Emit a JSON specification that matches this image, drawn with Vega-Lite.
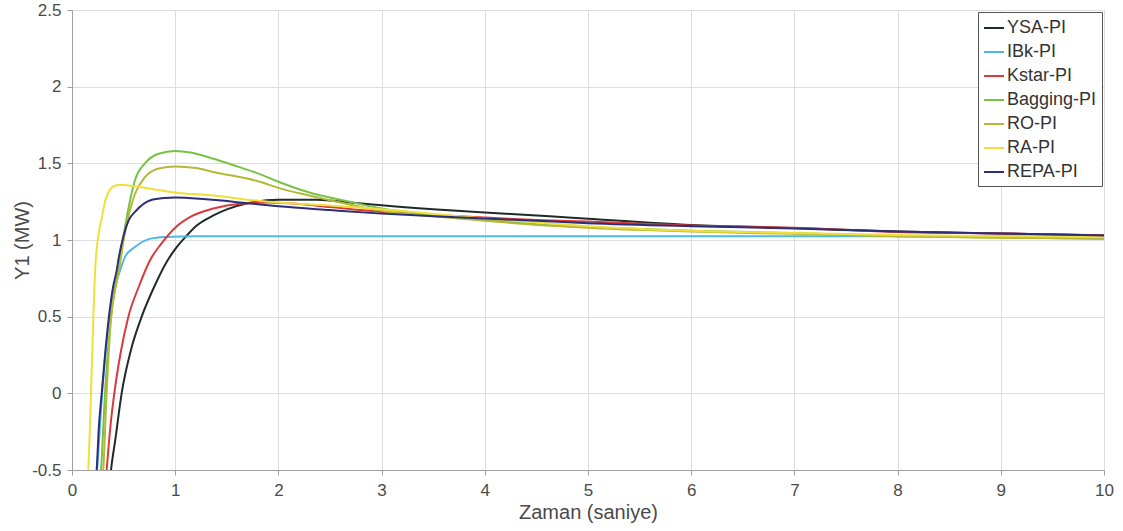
{
  "$schema": "https://vega.github.io/schema/vega-lite/v6.json",
  "width": 1032,
  "height": 460,
  "autosize": "none",
  "padding": {"left": 72, "top": 10, "right": 19, "bottom": 61},
  "background": "white",
  "config": {
    "font": "Liberation Sans",
    "view": {"stroke": "#a0a0a0", "strokeWidth": 1},
    "axis": {
      "labelFont": "Liberation Sans",
      "titleFont": "Liberation Sans",
      "labelColor": "#4a4a4a",
      "titleColor": "#4a4a4a",
      "labelFontSize": 17,
      "titleFontSize": 20,
      "titleFontWeight": "normal",
      "gridColor": "#dedede",
      "gridWidth": 1,
      "domainColor": "#a0a0a0",
      "tickColor": "#a0a0a0"
    },
    "legend": {
      "labelFont": "Liberation Sans",
      "labelFontSize": 18,
      "labelColor": "#333333"
    }
  },
  "data": {
    "values": [
      {"series": "YSA-PI", "t": 0.37, "y": -0.55},
      {"series": "YSA-PI", "t": 0.378, "y": -0.5},
      {"series": "YSA-PI", "t": 0.42, "y": -0.3},
      {"series": "YSA-PI", "t": 0.481, "y": 0.0},
      {"series": "YSA-PI", "t": 0.57, "y": 0.28},
      {"series": "YSA-PI", "t": 0.675, "y": 0.5},
      {"series": "YSA-PI", "t": 0.8, "y": 0.7},
      {"series": "YSA-PI", "t": 0.927, "y": 0.868},
      {"series": "YSA-PI", "t": 1.0, "y": 0.94},
      {"series": "YSA-PI", "t": 1.1, "y": 1.02},
      {"series": "YSA-PI", "t": 1.2, "y": 1.09},
      {"series": "YSA-PI", "t": 1.37, "y": 1.16},
      {"series": "YSA-PI", "t": 1.5, "y": 1.2},
      {"series": "YSA-PI", "t": 1.69, "y": 1.238},
      {"series": "YSA-PI", "t": 2.0, "y": 1.262},
      {"series": "YSA-PI", "t": 2.37, "y": 1.262},
      {"series": "YSA-PI", "t": 2.7, "y": 1.245},
      {"series": "YSA-PI", "t": 3.0, "y": 1.226},
      {"series": "YSA-PI", "t": 3.5, "y": 1.2},
      {"series": "YSA-PI", "t": 4.0, "y": 1.179},
      {"series": "YSA-PI", "t": 4.63, "y": 1.155},
      {"series": "YSA-PI", "t": 5.0, "y": 1.139},
      {"series": "YSA-PI", "t": 6.0, "y": 1.098},
      {"series": "YSA-PI", "t": 7.0, "y": 1.078},
      {"series": "YSA-PI", "t": 8.0, "y": 1.055},
      {"series": "YSA-PI", "t": 9.0, "y": 1.042},
      {"series": "YSA-PI", "t": 10.0, "y": 1.03},

      {"series": "IBk-PI", "t": 0.237, "y": -0.55},
      {"series": "IBk-PI", "t": 0.243, "y": -0.5},
      {"series": "IBk-PI", "t": 0.292, "y": 0.0},
      {"series": "IBk-PI", "t": 0.365, "y": 0.5},
      {"series": "IBk-PI", "t": 0.42, "y": 0.7},
      {"series": "IBk-PI", "t": 0.465, "y": 0.8},
      {"series": "IBk-PI", "t": 0.514, "y": 0.89},
      {"series": "IBk-PI", "t": 0.61, "y": 0.954},
      {"series": "IBk-PI", "t": 0.76, "y": 1.009},
      {"series": "IBk-PI", "t": 0.9, "y": 1.02},
      {"series": "IBk-PI", "t": 1.2, "y": 1.025},
      {"series": "IBk-PI", "t": 10.0, "y": 1.025},

      {"series": "Kstar-PI", "t": 0.33, "y": -0.55},
      {"series": "Kstar-PI", "t": 0.336, "y": -0.5},
      {"series": "Kstar-PI", "t": 0.37, "y": -0.23},
      {"series": "Kstar-PI", "t": 0.41, "y": 0.0},
      {"series": "Kstar-PI", "t": 0.47, "y": 0.26},
      {"series": "Kstar-PI", "t": 0.546, "y": 0.5},
      {"series": "Kstar-PI", "t": 0.65, "y": 0.7},
      {"series": "Kstar-PI", "t": 0.756, "y": 0.868},
      {"series": "Kstar-PI", "t": 0.87, "y": 0.98},
      {"series": "Kstar-PI", "t": 1.0, "y": 1.08},
      {"series": "Kstar-PI", "t": 1.16, "y": 1.155},
      {"series": "Kstar-PI", "t": 1.37, "y": 1.205},
      {"series": "Kstar-PI", "t": 1.63, "y": 1.237},
      {"series": "Kstar-PI", "t": 1.9, "y": 1.245},
      {"series": "Kstar-PI", "t": 2.2, "y": 1.235},
      {"series": "Kstar-PI", "t": 2.5, "y": 1.215},
      {"series": "Kstar-PI", "t": 3.0, "y": 1.183},
      {"series": "Kstar-PI", "t": 3.5, "y": 1.165},
      {"series": "Kstar-PI", "t": 4.0, "y": 1.146},
      {"series": "Kstar-PI", "t": 4.5, "y": 1.13},
      {"series": "Kstar-PI", "t": 5.0, "y": 1.12},
      {"series": "Kstar-PI", "t": 6.0, "y": 1.095},
      {"series": "Kstar-PI", "t": 7.0, "y": 1.08},
      {"series": "Kstar-PI", "t": 8.0, "y": 1.052},
      {"series": "Kstar-PI", "t": 9.0, "y": 1.042},
      {"series": "Kstar-PI", "t": 10.0, "y": 1.031},

      {"series": "Bagging-PI", "t": 0.275, "y": -0.55},
      {"series": "Bagging-PI", "t": 0.281, "y": -0.5},
      {"series": "Bagging-PI", "t": 0.32, "y": 0.0},
      {"series": "Bagging-PI", "t": 0.378, "y": 0.5},
      {"series": "Bagging-PI", "t": 0.42, "y": 0.7},
      {"series": "Bagging-PI", "t": 0.45, "y": 0.8},
      {"series": "Bagging-PI", "t": 0.465, "y": 0.868},
      {"series": "Bagging-PI", "t": 0.514, "y": 1.085},
      {"series": "Bagging-PI", "t": 0.56, "y": 1.25},
      {"series": "Bagging-PI", "t": 0.61, "y": 1.39},
      {"series": "Bagging-PI", "t": 0.707, "y": 1.5},
      {"series": "Bagging-PI", "t": 0.84, "y": 1.563},
      {"series": "Bagging-PI", "t": 1.0, "y": 1.58},
      {"series": "Bagging-PI", "t": 1.15, "y": 1.57},
      {"series": "Bagging-PI", "t": 1.37, "y": 1.53},
      {"series": "Bagging-PI", "t": 1.6, "y": 1.48},
      {"series": "Bagging-PI", "t": 1.82, "y": 1.43},
      {"series": "Bagging-PI", "t": 2.0, "y": 1.38},
      {"series": "Bagging-PI", "t": 2.3, "y": 1.31},
      {"series": "Bagging-PI", "t": 2.69, "y": 1.25},
      {"series": "Bagging-PI", "t": 3.0, "y": 1.205},
      {"series": "Bagging-PI", "t": 3.5, "y": 1.165},
      {"series": "Bagging-PI", "t": 4.0, "y": 1.133},
      {"series": "Bagging-PI", "t": 4.63, "y": 1.096},
      {"series": "Bagging-PI", "t": 5.0, "y": 1.085},
      {"series": "Bagging-PI", "t": 6.0, "y": 1.06},
      {"series": "Bagging-PI", "t": 7.0, "y": 1.045},
      {"series": "Bagging-PI", "t": 8.0, "y": 1.025},
      {"series": "Bagging-PI", "t": 9.0, "y": 1.016},
      {"series": "Bagging-PI", "t": 10.0, "y": 1.009},

      {"series": "RO-PI", "t": 0.297, "y": -0.55},
      {"series": "RO-PI", "t": 0.303, "y": -0.5},
      {"series": "RO-PI", "t": 0.335, "y": 0.0},
      {"series": "RO-PI", "t": 0.38, "y": 0.5},
      {"series": "RO-PI", "t": 0.425, "y": 0.7},
      {"series": "RO-PI", "t": 0.455, "y": 0.8},
      {"series": "RO-PI", "t": 0.47, "y": 0.868},
      {"series": "RO-PI", "t": 0.514, "y": 1.05},
      {"series": "RO-PI", "t": 0.56, "y": 1.19},
      {"series": "RO-PI", "t": 0.61, "y": 1.3},
      {"series": "RO-PI", "t": 0.707, "y": 1.41},
      {"series": "RO-PI", "t": 0.84, "y": 1.466},
      {"series": "RO-PI", "t": 1.0, "y": 1.48},
      {"series": "RO-PI", "t": 1.2, "y": 1.47},
      {"series": "RO-PI", "t": 1.37, "y": 1.444},
      {"series": "RO-PI", "t": 1.82, "y": 1.38},
      {"series": "RO-PI", "t": 2.0, "y": 1.34},
      {"series": "RO-PI", "t": 2.3, "y": 1.29},
      {"series": "RO-PI", "t": 2.7, "y": 1.23},
      {"series": "RO-PI", "t": 3.0, "y": 1.19},
      {"series": "RO-PI", "t": 3.5, "y": 1.155},
      {"series": "RO-PI", "t": 4.0, "y": 1.125},
      {"series": "RO-PI", "t": 4.6, "y": 1.095},
      {"series": "RO-PI", "t": 5.0, "y": 1.08},
      {"series": "RO-PI", "t": 6.0, "y": 1.055},
      {"series": "RO-PI", "t": 7.0, "y": 1.04},
      {"series": "RO-PI", "t": 8.0, "y": 1.025},
      {"series": "RO-PI", "t": 9.0, "y": 1.015},
      {"series": "RO-PI", "t": 10.0, "y": 1.008},

      {"series": "RA-PI", "t": 0.154, "y": -0.55},
      {"series": "RA-PI", "t": 0.158, "y": -0.5},
      {"series": "RA-PI", "t": 0.184, "y": 0.0},
      {"series": "RA-PI", "t": 0.207, "y": 0.5},
      {"series": "RA-PI", "t": 0.23, "y": 0.87},
      {"series": "RA-PI", "t": 0.245, "y": 0.98},
      {"series": "RA-PI", "t": 0.265, "y": 1.07},
      {"series": "RA-PI", "t": 0.288, "y": 1.14},
      {"series": "RA-PI", "t": 0.32, "y": 1.25},
      {"series": "RA-PI", "t": 0.352, "y": 1.31},
      {"series": "RA-PI", "t": 0.41, "y": 1.352},
      {"series": "RA-PI", "t": 0.47, "y": 1.36},
      {"series": "RA-PI", "t": 0.6, "y": 1.35},
      {"series": "RA-PI", "t": 0.8, "y": 1.33},
      {"series": "RA-PI", "t": 1.0, "y": 1.31},
      {"series": "RA-PI", "t": 1.37, "y": 1.29},
      {"series": "RA-PI", "t": 1.82, "y": 1.255},
      {"series": "RA-PI", "t": 2.0, "y": 1.245},
      {"series": "RA-PI", "t": 2.5, "y": 1.225},
      {"series": "RA-PI", "t": 3.0, "y": 1.2},
      {"series": "RA-PI", "t": 3.5, "y": 1.17},
      {"series": "RA-PI", "t": 4.0, "y": 1.14},
      {"series": "RA-PI", "t": 4.5, "y": 1.115},
      {"series": "RA-PI", "t": 5.0, "y": 1.09},
      {"series": "RA-PI", "t": 6.0, "y": 1.06},
      {"series": "RA-PI", "t": 7.0, "y": 1.045},
      {"series": "RA-PI", "t": 8.0, "y": 1.033},
      {"series": "RA-PI", "t": 9.0, "y": 1.025},
      {"series": "RA-PI", "t": 10.0, "y": 1.02},

      {"series": "REPA-PI", "t": 0.233, "y": -0.55},
      {"series": "REPA-PI", "t": 0.239, "y": -0.5},
      {"series": "REPA-PI", "t": 0.26, "y": -0.22},
      {"series": "REPA-PI", "t": 0.288, "y": 0.0},
      {"series": "REPA-PI", "t": 0.32, "y": 0.25},
      {"series": "REPA-PI", "t": 0.358, "y": 0.5},
      {"series": "REPA-PI", "t": 0.4, "y": 0.7},
      {"series": "REPA-PI", "t": 0.433, "y": 0.8},
      {"series": "REPA-PI", "t": 0.449, "y": 0.868},
      {"series": "REPA-PI", "t": 0.5, "y": 1.03},
      {"series": "REPA-PI", "t": 0.55, "y": 1.13},
      {"series": "REPA-PI", "t": 0.61, "y": 1.183},
      {"series": "REPA-PI", "t": 0.76, "y": 1.259},
      {"series": "REPA-PI", "t": 0.9, "y": 1.274},
      {"series": "REPA-PI", "t": 1.0, "y": 1.277},
      {"series": "REPA-PI", "t": 1.3, "y": 1.265},
      {"series": "REPA-PI", "t": 1.7, "y": 1.24},
      {"series": "REPA-PI", "t": 2.0, "y": 1.22},
      {"series": "REPA-PI", "t": 2.5, "y": 1.195},
      {"series": "REPA-PI", "t": 3.0, "y": 1.172},
      {"series": "REPA-PI", "t": 3.5, "y": 1.155},
      {"series": "REPA-PI", "t": 4.0, "y": 1.14},
      {"series": "REPA-PI", "t": 4.5, "y": 1.125},
      {"series": "REPA-PI", "t": 5.0, "y": 1.11},
      {"series": "REPA-PI", "t": 6.0, "y": 1.09},
      {"series": "REPA-PI", "t": 7.0, "y": 1.075},
      {"series": "REPA-PI", "t": 8.0, "y": 1.055},
      {"series": "REPA-PI", "t": 9.0, "y": 1.042},
      {"series": "REPA-PI", "t": 10.0, "y": 1.03}
    ]
  },
  "mark": {"type": "line", "clip": true, "strokeWidth": 2, "interpolate": "monotone"},
  "encoding": {
    "x": {
      "field": "t",
      "type": "quantitative",
      "scale": {"domain": [0, 10], "nice": false, "zero": false},
      "axis": {"values": [0,1,2,3,4,5,6,7,8,9,10], "title": "Zaman (saniye)", "labelPadding": 7, "titlePadding": 4, "tickSize": 5, "labelFlush": false}
    },
    "y": {
      "field": "y",
      "type": "quantitative",
      "scale": {"domain": [-0.5, 2.5], "nice": false, "zero": false},
      "axis": {"values": [-0.5, 0, 0.5, 1, 1.5, 2, 2.5], "labelExpr": "'' + datum.value", "title": "Y1 (MW)", "titleX": -50, "titleBaseline": "middle", "labelPadding": 6, "tickSize": 5, "labelFlush": false}
    },
    "color": {
      "field": "series",
      "type": "nominal",
      "scale": {
        "domain": ["YSA-PI", "IBk-PI", "Kstar-PI", "Bagging-PI", "RO-PI", "RA-PI", "REPA-PI"],
        "range": ["#1f2b28", "#4db8e8", "#d93a3c", "#78c244", "#b3b838", "#f0de3c", "#2a2f78"]
      },
      "legend": {
        "title": null,
        "orient": "top-right",
        "offset": 2,
        "strokeColor": "#555555",
        "fillColor": "white",
        "padding": 5,
        "symbolType": "stroke",
        "symbolSize": 400,
        "symbolStrokeWidth": 2,
        "rowPadding": 4,
        "labelOffset": 2
      }
    }
  }
}
